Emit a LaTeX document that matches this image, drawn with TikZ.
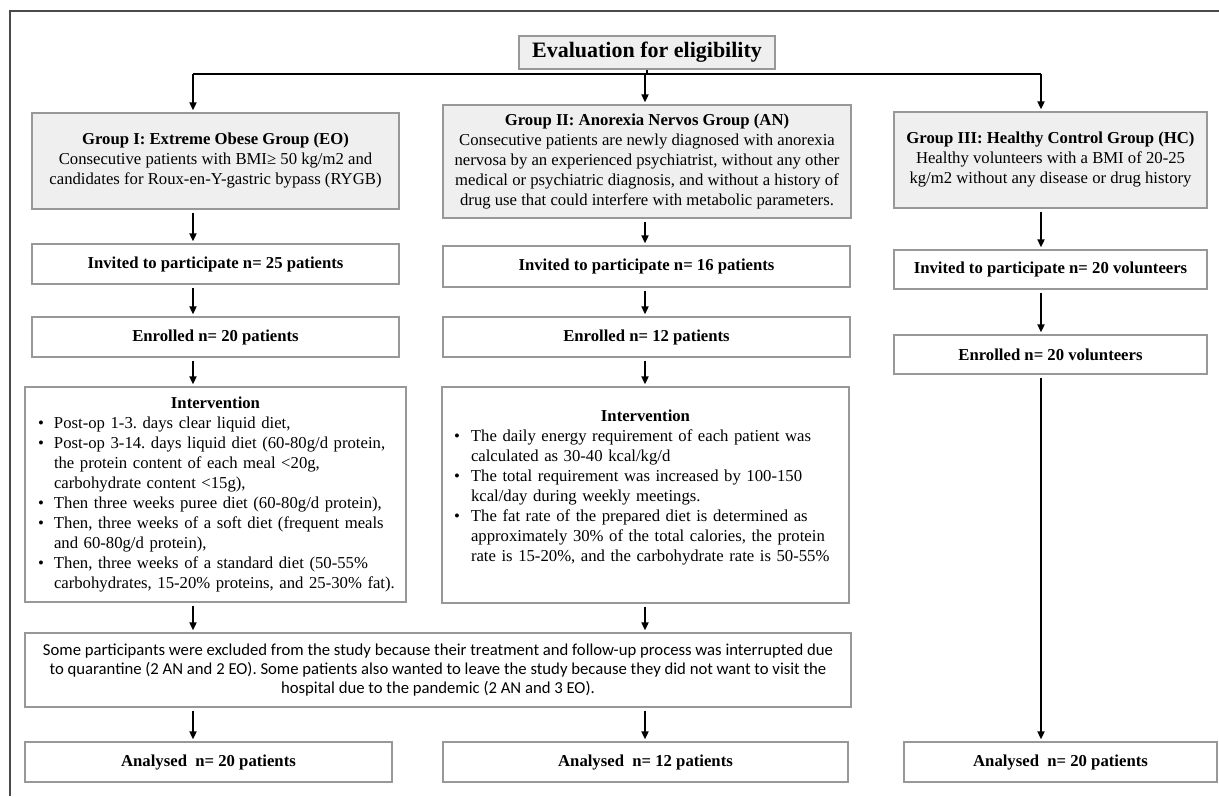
\documentclass[tikz,border=0pt]{standalone}
\usepackage{fontspec}
\setmainfont{Liberation Serif}
\newfontfamily\exfont{Carlito}
\usetikzlibrary{arrows.meta,calc}
\definecolor{boxgray}{HTML}{EEEFEE}
\definecolor{edgegray}{HTML}{989898}
\definecolor{framegray}{HTML}{4A4A4A}
\newlength\bulind
\newcommand\bitem{\par\noindent\hangindent=\bulind\hangafter=1\makebox[\bulind][l]{\textbullet}}
\frenchspacing
\begin{document}
\begin{tikzpicture}[x=1pt,y=-1pt,
  basebox/.style={draw=edgegray,line width=1.3pt,inner sep=0pt,text=black,
    font=\fontsize{16.7}{20}\selectfont\frenchspacing,align=center},
  gbox/.style={basebox,fill=boxgray},
  wbox/.style={basebox,fill=white},
  lbl/.style={wbox,font=\fontsize{16.7}{20}\selectfont\bfseries},
  line/.style={draw=black,line width=1.8pt},
  arr/.style={line,-{Triangle[length=8pt,width=7pt]},shorten <=3pt,shorten >=2pt},
  frameline/.style={draw=framegray,line width=1.8pt}
]
\useasboundingbox (0,0) rectangle (1219,796);
\fill[white] (0,0) rectangle (1219,796);
\draw[frameline] (10,796) -- (10,11) -- (1219,11);

% column x positions
\coordinate (cEO) at (193,0);
\coordinate (cAN) at (645,0);
\coordinate (cHC) at (1041,0);

% title
\node[gbox,minimum width=256,minimum height=33,font=\fontsize{22}{24}\selectfont\bfseries] (title) at (647,52.5) {Evaluation for eligibility};

% group boxes
\node[gbox,minimum width=367,minimum height=96] (EOg) at (215.5,161)
 {\textbf{Group I: Extreme Obese Group (EO)}\\Consecutive patients with BMI≥ 50 kg/m2 and\\candidates for Roux-en-Y-gastric bypass (RYGB)};
\node[gbox,minimum width=408,minimum height=113] (ANg) at (647,161.5)
 {\textbf{Group II: Anorexia Nervos Group (AN)}\\Consecutive patients are newly diagnosed with anorexia\\nervosa by an experienced psychiatrist, without any other\\medical or psychiatric diagnosis, and without a history of\\drug use that could interfere with metabolic parameters.};
\node[gbox,minimum width=313,minimum height=96] (HCg) at (1050.5,160)
 {\textbf{Group III: Healthy Control Group (HC)}\\Healthy volunteers with a BMI of 20-25\\kg/m2 without any disease or drug history};

% invited
\node[lbl,minimum width=367,minimum height=40] (EOinv) at (215.5,264) {Invited to participate n= 25 patients};
\node[lbl,minimum width=407,minimum height=41] (ANinv) at (646.5,266.5) {Invited to participate n= 16 patients};
\node[lbl,minimum width=313,minimum height=39] (HCinv) at (1050.5,269.5) {Invited to participate n= 20 volunteers};

% enrolled
\node[lbl,minimum width=367,minimum height=40] (EOenr) at (215.5,337) {Enrolled n= 20 patients};
\node[lbl,minimum width=407,minimum height=40] (ANenr) at (646.5,337) {Enrolled n= 12 patients};
\node[lbl,minimum width=313,minimum height=39] (HCenr) at (1050.5,354.5) {Enrolled n= 20 volunteers};

% interventions
\node[wbox,minimum width=381,minimum height=215,text width=355,inner xsep=13pt,align=left] (EOint) at (215.5,494.5)
 {\setlength\bulind{16pt}\rightskip=-20pt plus 1fil\relax
 {\centering\bfseries Intervention\par}%
 \bitem Post-op 1-3. days clear liquid diet,
 \bitem Post-op 3-14. days liquid diet (60-80g/d protein,\newline the protein content of each meal <20g,\newline carbohydrate content <15g),
 \bitem Then three weeks puree diet (60-80g/d protein),
 \bitem Then, three weeks of a soft diet (frequent meals\newline and 60-80g/d protein),
 \bitem Then, three weeks of a standard diet (50-55\%\newline carbohydrates, 15-20\% proteins, and 25-30\% fat).\par};
\node[wbox,minimum width=407,minimum height=216,text width=383,inner xsep=12pt,align=left] (ANint) at (645.5,495)
 {\setlength\bulind{17pt}\rightskip=-20pt plus 1fil\relax
 {\centering\bfseries Intervention\par}%
 \bitem The daily energy requirement of each patient was\newline calculated as 30-40 kcal/kg/d
 \bitem The total requirement was increased by 100-150\newline kcal/day during weekly meetings.
 \bitem The fat rate of the prepared diet is determined as\newline approximately 30\% of the total calories, the protein\newline rate is 15-20\%, and the carbohydrate rate is 50-55\%\par
 \vspace*{14pt}};

% exclusion
\node[wbox,minimum width=826,minimum height=74,font=\exfont\fontsize{16.7}{19}\selectfont\frenchspacing] (excl) at (438,670)
 {Some participants were excluded from the study because their treatment and follow-up process was interrupted due\\to quarantine (2 AN and 2 EO). Some patients also wanted to leave the study because they did not want to visit the\\hospital due to the pandemic (2 AN and 3 EO).};

% analysed
\node[lbl,minimum width=367,minimum height=40] (EOana) at (208.5,762) {Analysed\ \ n= 20 patients};
\node[lbl,minimum width=405,minimum height=40] (ANana) at (645.5,762) {Analysed\ \ n= 12 patients};
\node[lbl,minimum width=313,minimum height=40] (HCana) at (1060.5,762) {Analysed\ \ n= 20 patients};

% top distribution
\coordinate (bus) at (647,74);
\draw[line] (title.south) -- (bus);
\draw[line] (bus -| cEO) -- (bus -| cHC);
\draw[arr,shorten <=0pt] (bus -| cEO) -- (EOg.north -| cEO);
\draw[arr,shorten <=0pt] (bus -| cAN) -- (ANg.north -| cAN);
\draw[arr,shorten <=0pt] (bus -| cHC) -- (HCg.north -| cHC);

% EO column
\draw[arr] (EOg.south -| cEO) -- (EOinv.north -| cEO);
\draw[arr] (EOinv.south -| cEO) -- (EOenr.north -| cEO);
\draw[arr] (EOenr.south -| cEO) -- (EOint.north -| cEO);
\draw[arr] (EOint.south -| cEO) -- (excl.north -| cEO);
\draw[arr] (excl.south -| cEO) -- (EOana.north -| cEO);

% AN column
\draw[arr] (ANg.south -| cAN) -- (ANinv.north -| cAN);
\draw[arr] (ANinv.south -| cAN) -- (ANenr.north -| cAN);
\draw[arr] (ANenr.south -| cAN) -- (ANint.north -| cAN);
\draw[arr] (ANint.south -| cAN) -- (excl.north -| cAN);
\draw[arr] (excl.south -| cAN) -- (ANana.north -| cAN);

% HC column
\draw[arr] (HCg.south -| cHC) -- (HCinv.north -| cHC);
\draw[arr] (HCinv.south -| cHC) -- (HCenr.north -| cHC);
\draw[arr] (HCenr.south -| cHC) -- (HCana.north -| cHC);
\end{tikzpicture}
\end{document}
